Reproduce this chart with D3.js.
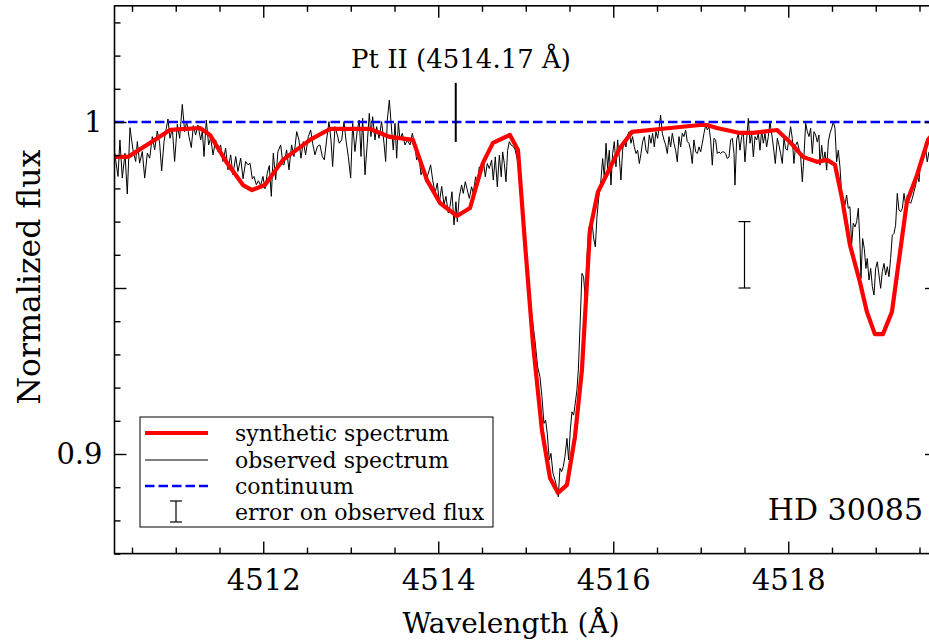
<!DOCTYPE html>
<html><head><meta charset="utf-8">
<script src="https://cdn.jsdelivr.net/npm/d3@7"></script>
<style>
body{margin:0;background:#fff;}
svg{display:block;font-family:"DejaVu Serif",serif;}
</style></head><body>
<svg id="c" width="929" height="642"></svg>
<script>
// ---------------- DATA ----------------
const synthetic = [
[4510.29,0.9895],[4510.454,0.9895],[4510.705,0.9937],[4510.934,0.9976],[4511.277,0.9982],[4511.391,0.9961],
[4511.585,0.9877],[4511.768,0.9810],[4511.871,0.9795],[4512.019,0.9810],[4512.225,0.9886],[4512.534,0.9946],
[4512.762,0.9979],[4513.219,0.9979],[4513.448,0.9955],[4513.711,0.9946],[4513.871,0.9825],[4514.020,0.9756],
[4514.214,0.9717],[4514.363,0.9741],[4514.511,0.9877],[4514.625,0.9937],[4514.819,0.9961],[4514.911,0.9916],
[4514.991,0.9636],[4515.082,0.9334],[4515.185,0.9072],[4515.277,0.8928],[4515.368,0.8883],[4515.471,0.8907],
[4515.562,0.9051],[4515.642,0.9253],[4515.734,0.9675],[4515.825,0.9789],[4516.077,0.9922],[4516.214,0.9970],
[4516.534,0.9979],[4516.991,0.9991],[4517.071,0.9991],[4517.185,0.9982],[4517.448,0.9967],[4517.597,0.9967],
[4517.871,0.9976],[4518.019,0.9940],[4518.168,0.9895],[4518.328,0.9880],[4518.442,0.9886],[4518.534,0.9871],
[4518.614,0.9771],[4518.705,0.9630],[4518.819,0.9518],[4518.899,0.9428],[4518.990,0.9361],[4519.082,0.9361],
[4519.185,0.9428],[4519.253,0.9560],[4519.356,0.9759],[4519.471,0.9840],[4519.597,0.9946],[4519.70,0.9980]
];

const observed = [
[4510.294,.9921],[4510.340,.9836],[4510.362,.9946],[4510.389,.9831],[4510.420,.9906],[4510.446,.9783],[4510.477,.9983],
[4510.511,.9916],[4510.542,.9881],[4510.561,.9941],[4510.587,.9876],[4510.618,.9911],[4510.645,.9831],[4510.675,.9906],
[4510.702,.9891],[4510.732,.9956],[4510.759,.9916],[4510.789,.9973],[4510.816,.9936],[4510.839,.9853],[4510.866,.9941],
[4510.892,.9981],[4510.911,1.0009],[4510.934,.9951],[4510.961,.9981],[4510.987,.9881],[4511.018,.9993],[4511.045,.9951],
[4511.075,1.0053],[4511.102,.9971],[4511.125,1.0003],[4511.151,.9956],[4511.178,.9923],[4511.201,.9989],[4511.227,.9961],
[4511.254,.9991],[4511.285,.9946],[4511.304,.9973],[4511.323,.9896],[4511.349,1.0006],[4511.376,.9931],[4511.399,.9953],
[4511.426,.9901],[4511.456,.9946],[4511.483,.9911],[4511.513,.9931],[4511.540,.9881],[4511.570,.9921],[4511.597,.9856],
[4511.628,.9901],[4511.654,.9841],[4511.685,.9896],[4511.711,.9851],[4511.742,.9891],[4511.769,.9829],[4511.799,.9881],
[4511.826,.9871],[4511.849,.9876],[4511.875,.9829],[4511.894,.9836],[4511.921,.9811],[4511.944,.9823],[4511.970,.9809],
[4511.997,.9836],[4512.020,.9799],[4512.046,.9846],[4512.069,.9869],[4512.092,.9776],[4512.115,.9906],[4512.142,.9826],
[4512.168,.9911],[4512.199,.9931],[4512.226,.9871],
[4512.237,.9871],[4512.267,.9916],[4512.294,.9856],[4512.324,.9931],[4512.351,.9896],[4512.382,.9971],[4512.408,.9946],
[4512.431,.9891],[4512.458,.9941],[4512.484,.9901],[4512.515,.9956],[4512.542,.9976],[4512.564,.9936],[4512.591,.9901],
[4512.618,.9926],[4512.648,.9931],[4512.675,.9896],[4512.698,.9886],[4512.724,.9946],[4512.751,1.0001],[4512.774,.9946],
[4512.793,.9866],[4512.820,.9986],[4512.846,.9961],[4512.869,.9936],[4512.896,.9946],[4512.923,1.0001],[4512.945,.9946],
[4512.972,.9896],[4512.999,.9831],[4513.022,.9996],[4513.048,.9911],[4513.075,.9976],[4513.098,1.0006],[4513.117,.9896],
[4513.136,1.0011],[4513.163,.9841],[4513.189,.9936],[4513.212,1.0026],[4513.231,.9956],[4513.250,1.0016],[4513.277,.9946],
[4513.296,.9986],[4513.323,.9951],[4513.353,1.0001],[4513.380,.9936],[4513.399,.9881],[4513.418,1.0006],[4513.441,1.0066],
[4513.467,.9976],[4513.486,.9916],[4513.506,.9996],[4513.525,.9891],[4513.544,1.0001],[4513.563,.9946],[4513.589,.9966],
[4513.620,.9931],[4513.646,.9946],[4513.677,.9931],[4513.704,.9966],[4513.734,.9926],[4513.753,.9886],[4513.780,.9896],
[4513.803,.9841],[4513.829,.9861],[4513.856,.9821],[4513.887,.9846],[4513.913,.9871],[4513.936,.9826],[4513.963,.9786],
[4513.989,.9816],[4514.012,.9756],[4514.039,.9806],[4514.066,.9751],[4514.088,.9776],[4514.115,.9726],
[4514.134,.9745],[4514.157,.9790],[4514.180,.9690],[4514.202,.9760],[4514.218,.9700],[4514.240,.9775],[4514.267,.9810],
[4514.286,.9785],[4514.309,.9820],[4514.332,.9795],[4514.355,.9770],[4514.381,.9805],[4514.400,.9785],[4514.427,.9835],
[4514.446,.9810],[4514.469,.9865],[4514.492,.9845],[4514.515,.9885],[4514.538,.9835],[4514.560,.9875],[4514.583,.9860],
[4514.610,.9885],[4514.629,.9825],[4514.652,.9895],[4514.675,.9805],[4514.698,.9900],[4514.720,.9835],[4514.736,.9910],
[4514.755,.9875],[4514.774,.9820],[4514.793,.9915],[4514.812,.9941],[4514.831,.9931],[4514.858,.9926],[4514.880,.9915],
[4514.896,.9895],[4514.915,.9875],[4514.953,.9785],[4514.991,.9644],[4515.029,.9524],[4515.067,.9424],[4515.105,.9343],
[4515.136,.9263],[4515.162,.9233],[4515.185,.9173],[4515.208,.9092],[4515.227,.9102],[4515.246,.9062],[4515.269,.8982],
[4515.288,.9002],[4515.311,.8942],[4515.334,.8922],[4515.353,.8902],[4515.372,.8871],[4515.391,.8957],[4515.410,.8947],
[4515.429,.8962],[4515.448,.8992],[4515.471,.9047],[4515.490,.8982],[4515.509,.9072],[4515.528,.9127],[4515.547,.9117],
[4515.566,.9153],[4515.585,.9193],[4515.601,.9253],[4515.620,.9383],[4515.642,.9544],[4515.661,.9534],[4515.680,.9469],
[4515.700,.9594],[4515.719,.9680],[4515.738,.9690],[4515.757,.9700],[4515.776,.9650],[4515.795,.9624],[4515.814,.9715],
[4515.833,.9770],
[4515.859,.9825],[4515.879,.9890],[4515.898,.9830],[4515.917,.9936],[4515.936,.9860],[4515.955,.9915],[4515.974,.9810],
[4515.993,.9905],[4516.012,.9941],[4516.031,.9865],[4516.050,.9946],[4516.069,.9895],[4516.088,.9825],[4516.107,.9915],
[4516.126,.9946],[4516.145,.9925],[4516.164,.9961],[4516.183,.9971],[4516.202,.9936],[4516.221,.9956],[4516.240,.9925],
[4516.260,.9905],[4516.279,.9915],[4516.298,.9875],[4516.317,.9905],[4516.336,.9941],[4516.355,.9956],[4516.374,.9915],
[4516.393,.9905],[4516.412,.9961],[4516.431,.9936],[4516.450,.9966],[4516.469,.9925],[4516.488,.9971],[4516.507,.9951],
[4516.526,.9986],[4516.541,1.0021],[4516.561,.9966],[4516.580,.9946],[4516.599,.9931],[4516.618,.9905],[4516.637,.9956],
[4516.656,.9925],[4516.675,.9966],[4516.694,.9936],[4516.713,.9915],[4516.732,.9880],[4516.751,.9956],[4516.770,.9925],
[4516.789,.9966],[4516.808,.9956],[4516.827,.9976],[4516.846,.9941],[4516.865,.9936],[4516.884,.9915],[4516.903,.9875],
[4516.922,.9946],[4516.942,.9910],[4516.961,.9905],[4516.980,.9925],[4516.999,.9910],[4517.018,.9936],[4517.037,.9966],
[4517.056,.9991],[4517.075,.9976],[4517.094,.9986],[4517.113,.9946],[4517.132,.9870],[4517.151,.9951],[4517.170,.9946],
[4517.189,.9905],[4517.208,.9910],[4517.227,.9905],[4517.246,.9910],[4517.265,.9910],[4517.284,.9905],[4517.303,.9890],
[4517.323,.9895],[4517.342,.9946],[4517.361,.9951],[4517.380,.9905],[4517.391,.9810],[4517.410,.9946],[4517.429,.9966],
[4517.448,.9915],[4517.467,.9956],[4517.486,.9971],[4517.505,.9880],[4517.524,.9946],[4517.544,1.0011],[4517.563,.9936],
[4517.582,.9966],[4517.601,.9895],[4517.620,.9956],[4517.639,.9946],[4517.658,.9966],[4517.677,.9915],[4517.696,.9976],
[4517.715,.9936],[4517.734,.9966],[4517.753,.9925],[4517.772,.9956],
[4517.791,1.0001],[4517.818,.9951],[4517.837,.9910],[4517.852,.9875],[4517.875,.9951],[4517.894,.9930],[4517.913,.9905],
[4517.932,.9875],[4517.951,.9951],[4517.970,.9920],[4517.989,.9915],[4518.008,.9951],[4518.027,.9986],[4518.046,.9951],
[4518.065,.9875],[4518.084,.9930],[4518.103,.9940],[4518.122,.9920],[4518.142,.9895],[4518.161,.9820],[4518.180,.9900],
[4518.199,.9996],[4518.218,.9971],[4518.237,.9956],[4518.256,.9981],[4518.275,.9905],[4518.294,.9971],[4518.313,.9961],
[4518.332,.9940],[4518.351,.9961],[4518.362,.9870],[4518.382,.9930],[4518.401,.9880],[4518.420,.9910],[4518.439,.9855],
[4518.458,.9940],[4518.477,.9966],[4518.496,.9981],[4518.515,1.0001],[4518.534,.9981],[4518.553,.9880],[4518.572,.9915],
[4518.591,.9865],[4518.610,.9785],[4518.629,.9770],[4518.648,.9750],[4518.667,.9780],[4518.686,.9740],[4518.705,.9745],
[4518.724,.9629],[4518.743,.9695],[4518.763,.9684],[4518.782,.9700],[4518.801,.9740],[4518.820,.9629],[4518.831,.9529],
[4518.850,.9649],[4518.869,.9619],[4518.888,.9559],[4518.903,.9589],[4518.923,.9524],[4518.942,.9559],[4518.961,.9504],
[4518.980,.9479],[4518.999,.9559],[4519.018,.9579],[4519.037,.9539],[4519.056,.9499],[4519.075,.9549],[4519.094,.9574],
[4519.113,.9539],[4519.132,.9564],[4519.151,.9534],[4519.170,.9589],[4519.189,.9659],[4519.208,.9664],[4519.227,.9689],
[4519.246,.9785],[4519.265,.9735],[4519.285,.9730],[4519.304,.9740],[4519.323,.9785],[4519.342,.9750],[4519.361,.9780],
[4519.380,.9760],[4519.399,.9755],[4519.418,.9770],[4519.437,.9790],[4519.456,.9810],[4519.475,.9840],[4519.494,.9820],
[4519.513,.9880],[4519.532,.9895],[4519.551,.9900],[4519.570,.9920],[4519.589,.9880],[4519.608,.9910]
];

const continuumLevel = 1.0;
const xMajorTicks = [4512, 4514, 4516, 4518];
const xMinorTicks = [4510.5,4511,4511.5,4512.5,4513,4513.5,4514.5,4515,4515.5,4516.5,4517,4517.5,4518.5,4519,4519.5];
const yMajorTicks = [0.9, 0.95, 1.0];
const yTickLabels = {"0.9":"0.9","1":"1"};
const yMinorTicks = [0.87,0.88,0.89,0.91,0.92,0.93,0.94,0.96,0.97,0.98,0.99,1.01,1.02,1.03];
const lineLabel = "Pt II (4514.17 Å)";
const lineMarkWave = 4514.2, lineMarkFlux = [0.994, 1.0118];
const errWave = 4517.5, errFlux = 0.96, errSize = 0.01;
const starName = "HD 30085";
const legendLabels = ["synthetic spectrum","observed spectrum","continuum","error on observed flux"];
const xTitle = "Wavelength (Å)", yTitle = "Normalized flux";

// ---------------- CHART ----------------
const svg = d3.select("#c");
const L=114.5, R=937, T=5.8, B=553.6;
const x = d3.scaleLinear().domain([4510.3, 4519.7]).range([L, R]);
const y = d3.scaleLinear().domain([0.87, 1.035]).range([B, T]);

svg.append("defs").append("clipPath").attr("id","clip")
  .append("rect").attr("x",L).attr("y",T).attr("width",R-L).attr("height",B-T);

const plot = svg.append("g").attr("clip-path","url(#clip)");
const line = d3.line().x(d=>x(d[0])).y(d=>y(d[1]));

plot.append("path").datum(observed).attr("d",line)
  .attr("fill","none").attr("stroke","#000").attr("stroke-width",1);
plot.append("path").datum(synthetic).attr("d",line)
  .attr("fill","none").attr("stroke","#ff0000").attr("stroke-width",4.2).attr("stroke-linejoin","round");
plot.append("path").datum([[4510.3,continuumLevel],[4519.7,continuumLevel]]).attr("d",line)
  .attr("fill","none").attr("stroke","#0000ff").attr("stroke-width",2.4).attr("stroke-dasharray","9.5,4");

// line marker
svg.append("line").attr("x1",x(lineMarkWave)).attr("x2",x(lineMarkWave))
  .attr("y1",y(lineMarkFlux[0])).attr("y2",y(lineMarkFlux[1]))
  .attr("stroke","#000").attr("stroke-width",2);
svg.append("text").attr("x",461).attr("y",68).attr("text-anchor","middle")
  .attr("font-size",26).text(lineLabel);

// error bar
const eg = svg.append("g").attr("stroke","#000").attr("stroke-width",1.2);
eg.append("line").attr("x1",x(errWave)).attr("x2",x(errWave)).attr("y1",y(errFlux-errSize)).attr("y2",y(errFlux+errSize));
[errFlux-errSize, errFlux+errSize].forEach(v=>{
  eg.append("line").attr("x1",x(errWave)-6).attr("x2",x(errWave)+6).attr("y1",y(v)).attr("y2",y(v));
});

// axes
function styleAxis(g, fs){
  g.select(".domain").remove();
  g.selectAll(".tick line").attr("stroke","#000").attr("stroke-width",1.4);
  g.selectAll(".tick text").attr("fill","#000").attr("font-size",fs).attr("font-family","DejaVu Serif");
  g.attr("font-family",null).attr("font-size",null);
}
const fmtX = d3.format("d");
styleAxis(svg.append("g").attr("transform",`translate(0,${B})`)
  .call(d3.axisBottom(x).tickValues(xMajorTicks).tickSizeInner(-12).tickSizeOuter(0).tickPadding(16).tickFormat(fmtX)), 29);
styleAxis(svg.append("g").attr("transform",`translate(0,${B})`)
  .call(d3.axisBottom(x).tickValues(xMinorTicks).tickSizeInner(-6).tickSizeOuter(0).tickFormat("")), 29);
styleAxis(svg.append("g").attr("transform",`translate(0,${T})`)
  .call(d3.axisTop(x).tickValues(xMajorTicks).tickSizeInner(-12).tickSizeOuter(0).tickFormat("")), 29);
styleAxis(svg.append("g").attr("transform",`translate(0,${T})`)
  .call(d3.axisTop(x).tickValues(xMinorTicks).tickSizeInner(-6).tickSizeOuter(0).tickFormat("")), 29);
styleAxis(svg.append("g").attr("transform",`translate(${L},0)`)
  .call(d3.axisLeft(y).tickValues(yMajorTicks).tickSizeInner(-12).tickSizeOuter(0).tickPadding(12)
    .tickFormat(d=>yTickLabels[String(+d.toFixed(2))]||"")), 29);
styleAxis(svg.append("g").attr("transform",`translate(${L},0)`)
  .call(d3.axisLeft(y).tickValues(yMinorTicks).tickSizeInner(-6).tickSizeOuter(0).tickFormat("")), 29);
styleAxis(svg.append("g").attr("transform",`translate(${R},0)`)
  .call(d3.axisRight(y).tickValues(yMajorTicks).tickSizeInner(-12).tickSizeOuter(0).tickFormat("")), 29);
styleAxis(svg.append("g").attr("transform",`translate(${R},0)`)
  .call(d3.axisRight(y).tickValues(yMinorTicks).tickSizeInner(-6).tickSizeOuter(0).tickFormat("")), 29);

svg.append("rect").attr("x",L).attr("y",T).attr("width",R-L).attr("height",B-T)
  .attr("fill","none").attr("stroke","#000").attr("stroke-width",1.6);

// titles
svg.append("text").attr("x",511).attr("y",633).attr("text-anchor","middle").attr("font-size",28).text(xTitle);
svg.append("text").attr("transform","translate(40,277) rotate(-90)").attr("text-anchor","middle")
  .attr("font-size",31.5).text(yTitle);
svg.append("text").attr("x",923).attr("y",520).attr("text-anchor","end").attr("font-size",30).text(starName);

// legend
const lg = svg.append("g");
lg.append("rect").attr("x",140).attr("y",417).attr("width",353).attr("height",110)
  .attr("fill","#fff").attr("stroke","#000").attr("stroke-width",1);
const rowsY=[433,460,486,512];
lg.append("line").attr("x1",145).attr("x2",208).attr("y1",rowsY[0]).attr("y2",rowsY[0]).attr("stroke","#ff0000").attr("stroke-width",4.2);
lg.append("line").attr("x1",145).attr("x2",208).attr("y1",rowsY[1]).attr("y2",rowsY[1]).attr("stroke","#000").attr("stroke-width",1);
lg.append("line").attr("x1",145).attr("x2",208).attr("y1",rowsY[2]).attr("y2",rowsY[2]).attr("stroke","#0000ff").attr("stroke-width",2.4).attr("stroke-dasharray","9.5,4");
const lge = lg.append("g").attr("stroke","#000").attr("stroke-width",1.2);
lge.append("line").attr("x1",176).attr("x2",176).attr("y1",501).attr("y2",522);
lge.append("line").attr("x1",170).attr("x2",182).attr("y1",501).attr("y2",501);
lge.append("line").attr("x1",170).attr("x2",182).attr("y1",522).attr("y2",522);
legendLabels.forEach((t,i)=>{
  lg.append("text").attr("x",235).attr("y",rowsY[i]+8).attr("font-size",22).text(t);
});
</script>
</body></html>
